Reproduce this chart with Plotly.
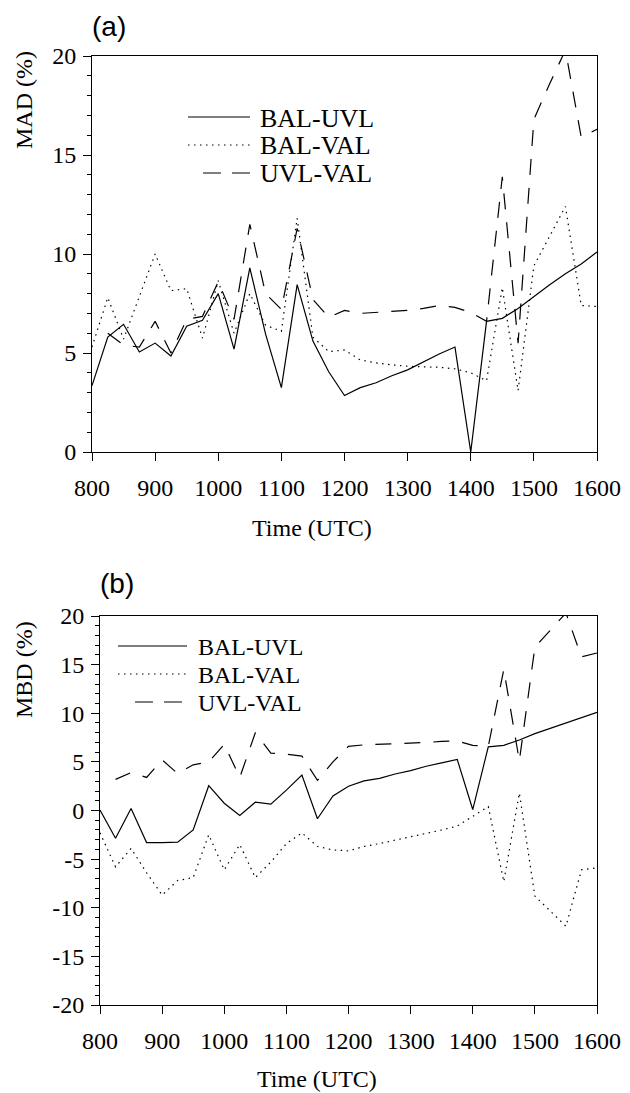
import plotly.graph_objects as go

W, H = 630, 1093

times = [800, 825, 850, 875, 900, 925, 950, 975, 1000, 1025, 1050, 1075, 1100,
         1125, 1150, 1175, 1200, 1225, 1250, 1275, 1300, 1325, 1350, 1375, 1400,
         1425, 1450, 1475, 1500, 1525, 1550, 1575, 1600]

# (a) MAD (%)
mad_bal_uvl = [3.35, 5.8, 6.45, 5.05, 5.5, 4.85, 6.35, 6.65, 8.0, 5.2, 9.3, 5.95, 3.25,
               8.45, 5.6, 4.05, 2.85, 3.25, 3.5, 3.85, 4.15, 4.55, 4.95, 5.3, 0.0,
               6.6, 6.75, 7.25, 7.85, 8.45, 9.0, 9.5, 10.1]
mad_bal_val = [5.3, 7.8, 5.7, 7.85, 10.0, 8.15, 8.25, 5.75, 8.65, 6.0, 8.0, 6.4, 6.1,
               11.8, 5.8, 5.07, 5.15, 4.65, 4.5, 4.4, 4.33, 4.3, 4.28, 4.2, 4.0,
               3.6, 8.3, 3.1, 9.4, 10.9, 12.4, 7.4, 7.35]
mad_uvl_val = [None, 6.0, 5.4, 5.3, 6.6, 5.0, 6.7, 6.85, 8.6, 6.7, 11.5, 8.0, 7.2,
               11.3, 7.7, 6.8, 7.15, 7.0, 7.05, 7.1, 7.15, 7.25, 7.4, 7.3, 7.05,
               6.6, 13.9, 5.5, 16.8, 18.6, 20.3, 15.9, 16.3]

# (b) MBD (%)
mbd_bal_uvl = [0.05, -2.85, 0.2, -3.3, -3.3, -3.25, -2.0, 2.55, 0.75, -0.5, 0.85, 0.65, 2.1,
               3.65, -0.85, 1.5, 2.5, 3.05, 3.3, 3.75, 4.1, 4.55, 4.9, 5.25, 0.1,
               6.55, 6.7, 7.25, 7.9, 8.45, 9.0, 9.6, 10.1]
mbd_bal_val = [-2.3, -5.8, -3.9, -6.4, -8.7, -7.2, -6.9, -2.5, -6.1, -3.5, -6.9, -5.3, -3.4,
               -2.3, -3.7, -4.05, -4.15, -3.7, -3.4, -3.05, -2.7, -2.4, -2.0, -1.6, -0.6,
               0.4, -7.3, 1.8, -8.8, -10.4, -11.9, -6.1, -5.9]
mbd_uvl_val = [None, 3.2, 3.9, 3.4, 5.2, 3.8, 4.7, 5.0, 6.8, 3.4, 8.0, 5.9, 5.8,
               5.6, 3.1, 5.0, 6.6, 6.75, 6.8, 6.85, 6.95, 7.0, 7.1, 7.15, 6.7,
               6.6, 14.5, 5.1, 16.8, 18.5, 20.3, 15.8, 16.2]

series_names = ["BAL-UVL", "BAL-VAL", "UVL-VAL"]
x_ticks = [800, 900, 1000, 1100, 1200, 1300, 1400, 1500, 1600]
y_ticks_a = [0, 5, 10, 15, 20]
y_ticks_b = [-20, -15, -10, -5, 0, 5, 10, 15, 20]

SERIF = "Liberation Serif"
SANS = "Liberation Sans"
DOT = "1.5px,4.5px"
DASH = "16px,13px"
LEG_DASH = "18px,11px"
dashes = ["solid", DOT, DASH]
leg_dashes = ["solid", DOT, LEG_DASH]
LW = 1.2

fig = go.Figure()

panel_a = [mad_bal_uvl, mad_bal_val, mad_uvl_val]
panel_b = [mbd_bal_uvl, mbd_bal_val, mbd_uvl_val]
for name, ys, d in zip(series_names, panel_a, dashes):
    fig.add_trace(go.Scatter(x=times, y=ys, mode="lines", name=name, xaxis="x", yaxis="y",
                             line=dict(color="black", width=LW, dash=d), showlegend=False,
                             hoverinfo="skip"))
for name, ys, d in zip(series_names, panel_b, dashes):
    fig.add_trace(go.Scatter(x=times, y=ys, mode="lines", name=name, xaxis="x2", yaxis="y2",
                             line=dict(color="black", width=LW, dash=d), showlegend=False,
                             hoverinfo="skip"))


def px_x(p):
    return p / W


def px_y(p):
    return 1 - p / H


axis_common = dict(showgrid=False, zeroline=False, showline=True, linecolor="black",
                   linewidth=1, mirror=True, ticks="outside", ticklen=8, tickwidth=1,
                   tickcolor="black", tickfont=dict(family=SERIF, size=24, color="black"),
                   automargin=False)
minor_y = dict(dtick=1, ticks="outside", ticklen=4, tickcolor="black", showgrid=False)

fig.update_layout(
    width=W, height=H,
    margin=dict(l=0, r=0, t=0, b=0),
    paper_bgcolor="white", plot_bgcolor="white",
    xaxis=dict(domain=[px_x(92), px_x(597)], range=[800, 1600], tickvals=x_ticks,
               ticktext=[str(v) for v in x_ticks],
               anchor="y", ticklabelstandoff=6, **axis_common),
    yaxis=dict(domain=[px_y(452), px_y(56)], range=[0, 20], tickvals=y_ticks_a,
               ticktext=[str(v) for v in y_ticks_a],
               anchor="x", ticklabelstandoff=2, minor=minor_y, **axis_common),
    xaxis2=dict(domain=[px_x(100), px_x(597)], range=[800, 1600], tickvals=x_ticks,
                ticktext=[str(v) for v in x_ticks],
                anchor="y2", ticklabelstandoff=6, **axis_common),
    yaxis2=dict(domain=[px_y(1005), px_y(616)], range=[-20, 20], tickvals=y_ticks_b,
                ticktext=[str(v) for v in y_ticks_b],
                anchor="x2", ticklabelstandoff=2, minor=minor_y, **axis_common),
)

annotations = []
shapes = []


def add_text(text, x, y, font, size, angle=0, xanchor="center"):
    annotations.append(dict(text=text, x=px_x(x), y=px_y(y), xref="paper", yref="paper",
                            showarrow=False, xanchor=xanchor, yanchor="middle",
                            textangle=angle, font=dict(family=font, size=size, color="black")))


add_text("(a)", 109, 27, SANS, 28)
add_text("(b)", 117, 583, SANS, 28)
add_text("MAD (%)", 24, 100, SERIF, 24, angle=-90)
add_text("MBD (%)", 24, 670, SERIF, 24, angle=-90)
add_text("Time (UTC)", 312, 528, SERIF, 24)
add_text("Time (UTC)", 317, 1079, SERIF, 24)

# custom legends (sample start/end per row, text x, row y)
legend_specs = [
    dict(x0=[188, 188, 203], x1=250, tx=258, ys=[117, 145, 173], size=26),
    dict(x0=[118, 118, 135], x1=187, tx=196, ys=[646, 674, 702], size=24),
]
for spec in legend_specs:
    for name, d, yy, x0 in zip(series_names, leg_dashes, spec["ys"], spec["x0"]):
        shapes.append(dict(type="line", xref="paper", yref="paper",
                           x0=px_x(x0), x1=px_x(spec["x1"]),
                           y0=px_y(yy), y1=px_y(yy),
                           line=dict(color="black", width=LW, dash=d)))
        add_text(name, spec["tx"], yy + 1, SERIF, spec["size"], xanchor="left")

fig.update_layout(annotations=annotations, shapes=shapes)

fig.write_html("out.html", config={"displayModeBar": False},
               post_script="document.body.style.margin='0';document.body.style.overflow='hidden';")
